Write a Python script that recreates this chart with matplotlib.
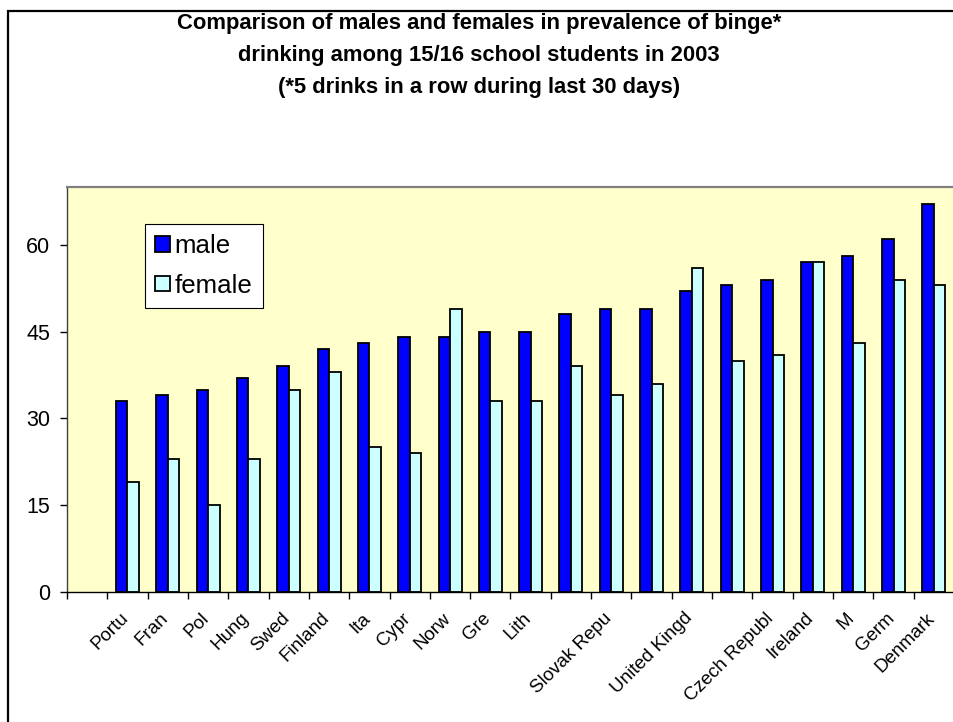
#!/usr/bin/env python3
"""
Binge drinking among 15/16 year old school students (2003), males vs females.

Grouped bar chart re-drawn in matplotlib. Saves out.png (954x722).
"""

import numpy as np
import matplotlib
matplotlib.use("Agg")
import matplotlib.pyplot as plt
from matplotlib.patches import Rectangle
from matplotlib.transforms import ScaledTranslation

# Category labels as they can be read on the axis (long names are cut off,
# some labels are not shown at all)
countries = ['Portu', 'Fran', 'Pol', 'Hung', 'Swed', 'Finland', 'Ita', 'Cypr',
             'Norw', 'Gre', 'Lith', '', 'Slovak Repu', '', 'United Kingd', '',
             'Czech Republ', 'Ireland', 'M', 'Germ', 'Denmark']

# Percent reporting 5+ drinks in a row during last 30 days
male = [33, 34, 35, 37, 39, 42, 43, 44, 44, 45, 45, 48, 49, 49, 52, 53,
        54, 57, 58, 61, 67]
female = [19, 23, 15, 23, 35, 38, 25, 24, 49, 33, 33, 39, 34, 36, 56, 40,
          41, 57, 43, 54, 53]

y_ticks = [0, 15, 30, 45, 60]

TITLE = ('Comparison of males and females in prevalence of binge*\n'
         'drinking among 15/16 school students in 2003\n'
         '(*5 drinks in a row during last 30 days)')

plt.rcParams['font.family'] = ['Liberation Sans', 'DejaVu Sans']

DPI = 100
fig = plt.figure(figsize=(9.54, 7.22), dpi=DPI)
fig.patch.set_facecolor('white')

# Chart area border (only left and top edge are inside the picture)
fig.patches.append(Rectangle((8.5 / 954, -0.2), 2.0, 1.2 - 10.5 / 722,
                             transform=fig.transFigure, fill=False,
                             edgecolor='black', linewidth=1.6, clip_on=False))

fig.text(0.502, 1 - 13 / 722, TITLE, ha='center', va='top', fontsize=15.8,
         fontweight='bold', linespacing=1.7)

# Plot area runs past the right edge of the picture
ax = fig.add_axes([67 / 954, 130 / 722, 1 - 67 / 954, 405 / 722])
ax.set_facecolor('#FFFFCC')

x = np.arange(1, len(countries) + 1)
width = 0.285
ax.bar(x - width / 2, male, width, color='#0000FF', edgecolor='black',
       linewidth=1.3, label='male')
ax.bar(x + width / 2, female, width, color='#CCFFFF', edgecolor='black',
       linewidth=1.3, label='female')

ax.set_xlim(-0.5, -0.5 + 887 / 41.05)
ax.set_ylim(0, 70)

# y axis
ax.set_yticks(y_ticks)
ax.tick_params(axis='y', length=5, width=1, pad=7, labelsize=15.5)

# x axis: tick marks between categories, labels at category centres
ax.set_xticks(np.arange(-0.5, len(countries) + 1.5, 1.0))
ax.set_xticklabels([])
ax.tick_params(axis='x', which='major', length=5, width=1)
ax.set_xticks(x, minor=True)
ax.set_xticklabels(countries, minor=True, rotation=45, ha='right',
                   va='center', rotation_mode='anchor', fontsize=13.5)
ax.tick_params(axis='x', which='minor', length=0, pad=17)
shift = ScaledTranslation(-2 / DPI, 0, fig.dpi_scale_trans)
for lbl in ax.get_xticklabels(minor=True):
    lbl.set_transform(lbl.get_transform() + shift)

ax.spines['top'].set_color('#808080')
ax.spines['top'].set_linewidth(1.6)
ax.spines['left'].set_color('#404040')
ax.spines['left'].set_linewidth(1.0)
ax.spines['bottom'].set_linewidth(1.0)
ax.spines['right'].set_visible(False)

leg = ax.legend(loc='upper left', bbox_to_anchor=(78 / 887, 368 / 405),
                borderaxespad=0, fontsize=18.6, fancybox=False,
                edgecolor='black', framealpha=1, handlelength=0.55,
                handleheight=0.55, handletextpad=0.2, labelspacing=0.6,
                borderpad=0.4)
leg.get_frame().set_linewidth(0.8)

plt.savefig('out.png', dpi=DPI, facecolor='white')
plt.close()
